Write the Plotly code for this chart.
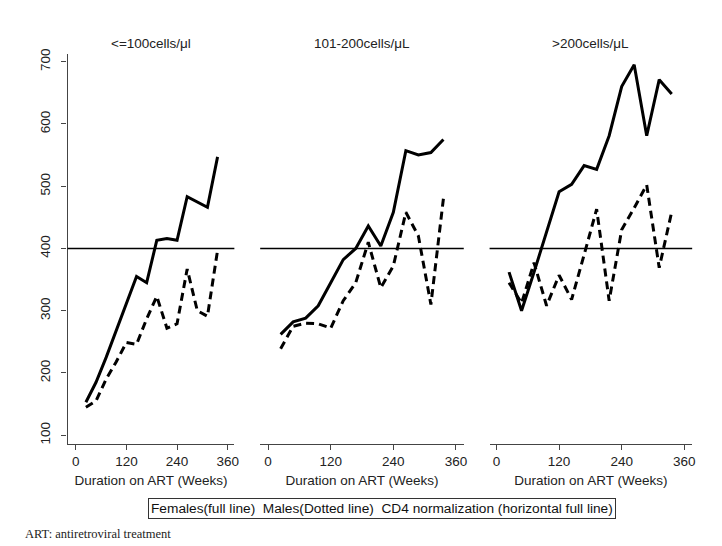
import plotly.graph_objects as go

weeks = [24, 48, 72, 96, 120, 144, 168, 192, 216, 240, 264, 288, 312, 336]

panel_titles = ["<=100cells/μl", "101-200cells/μL", ">200cells/μL"]

female_le100 = [153, 185, 225, 268, 310, 355, 345, 413, 416, 413, 483, 475, 466, 547]
male_le100 = [145, 155, 190, 218, 249, 246, 287, 323, 272, 279, 367, 300, 291, 397]

female_101_200 = [262, 282, 288, 308, 345, 382, 400, 436, 404, 458, 557, 550, 554, 575]
male_101_200 = [239, 275, 280, 279, 272, 316, 345, 410, 337, 372, 458, 420, 310, 480]

female_gt200 = [362, 300, 362, 426, 491, 503, 533, 527, 581, 660, 695, 581, 671, 648]
male_gt200 = [345, 312, 377, 308, 357, 318, 390, 463, 316, 430, 465, 502, 369, 459]

x_ticks = [0, 120, 240, 360]
y_ticks = [100, 200, 300, 400, 500, 600, 700]
CD4_NORMALIZATION = 400

legend_text = "Females(full line)  Males(Dotted line)  CD4 normalization (horizontal full line)"
footnote = "ART: antiretroviral treatment"

W, H = 722, 546
FONT = "Liberation Sans, Arial, sans-serif"
AXIS_COLOR = "#444444"

females = [female_le100, female_101_200, female_gt200]
males = [male_le100, male_101_200, male_gt200]

# panel pixel extents (left, right) and x ranges
panel_px = [(68, 236), (262, 467), (493, 697)]
x_ranges = [[-19.5, 375.8], [-15.2, 375.0], [-13.3, 375.2]]
top_px, bot_px = 49, 443
y_dom = [(H - bot_px) / H, (H - top_px) / H]

fig = go.Figure()
layout = {}
for i in range(3):
    ax = "" if i == 0 else str(i + 1)
    xa, ya = "x" + ax, "y" + ax
    fig.add_trace(go.Scatter(x=weeks, y=females[i], mode="lines",
                             line=dict(color="black", width=3),
                             showlegend=False, xaxis=xa, yaxis=ya))
    fig.add_trace(go.Scatter(x=weeks, y=males[i], mode="lines",
                             line=dict(color="black", width=3, dash="8px,5px"),
                             showlegend=False, xaxis=xa, yaxis=ya))
    fig.add_shape(type="line", xref=xa + " domain", yref=ya,
                  x0=0, x1=1, y0=CD4_NORMALIZATION, y1=CD4_NORMALIZATION,
                  line=dict(color="black", width=1.5))
    l, r = panel_px[i]
    layout["xaxis" + ax] = dict(
        domain=[l / W, r / W], range=x_ranges[i], anchor=ya,
        tickvals=x_ticks, ticks="outside", ticklen=5, tickcolor=AXIS_COLOR,
        showline=True, linecolor=AXIS_COLOR, linewidth=1.2,
        showgrid=False, zeroline=False,
        tickfont=dict(family=FONT, size=13.5, color="#222"),
        title=dict(text="Duration on ART (Weeks)", standoff=7,
                   font=dict(family=FONT, size=13.5, color="#222")),
    )
    layout["yaxis" + ax] = dict(
        domain=y_dom, range=[86, 713], anchor=xa,
        tickvals=y_ticks, showgrid=False, zeroline=False,
        showline=(i == 0), linecolor=AXIS_COLOR, linewidth=1.2,
        ticks="outside" if i == 0 else "", ticklen=5, tickcolor=AXIS_COLOR,
        showticklabels=(i == 0), tickangle=-90, ticklabelstandoff=6,
        tickfont=dict(family=FONT, size=13.5, color="#222"),
    )
    fig.add_annotation(text=panel_titles[i], xref="paper", yref="paper",
                       x=(l + r) / 2 / W, y=(H - 39) / H, showarrow=False,
                       xanchor="center", yanchor="middle",
                       font=dict(family=FONT, size=13.5, color="#222"))

fig.add_annotation(text=legend_text, xref="paper", yref="paper",
                   x=385 / W, y=(H - 508) / H, showarrow=False,
                   xanchor="center", yanchor="middle",
                   bordercolor="#333", borderwidth=1, borderpad=2,
                   font=dict(family=FONT, size=13.7, color="#111"))
fig.add_annotation(text=footnote, xref="paper", yref="paper",
                   x=23 / W, y=(H - 534) / H, showarrow=False,
                   xanchor="left", yanchor="middle",
                   font=dict(family="Liberation Serif, Times New Roman, serif", size=12.5, color="#222"))

fig.update_layout(width=W, height=H, margin=dict(l=0, r=0, t=0, b=0),
                  plot_bgcolor="white", paper_bgcolor="white", **layout)
fig.write_html("out.html", config={"displayModeBar": False},
               post_script="document.body.style.margin='0';document.body.style.padding='0';")
